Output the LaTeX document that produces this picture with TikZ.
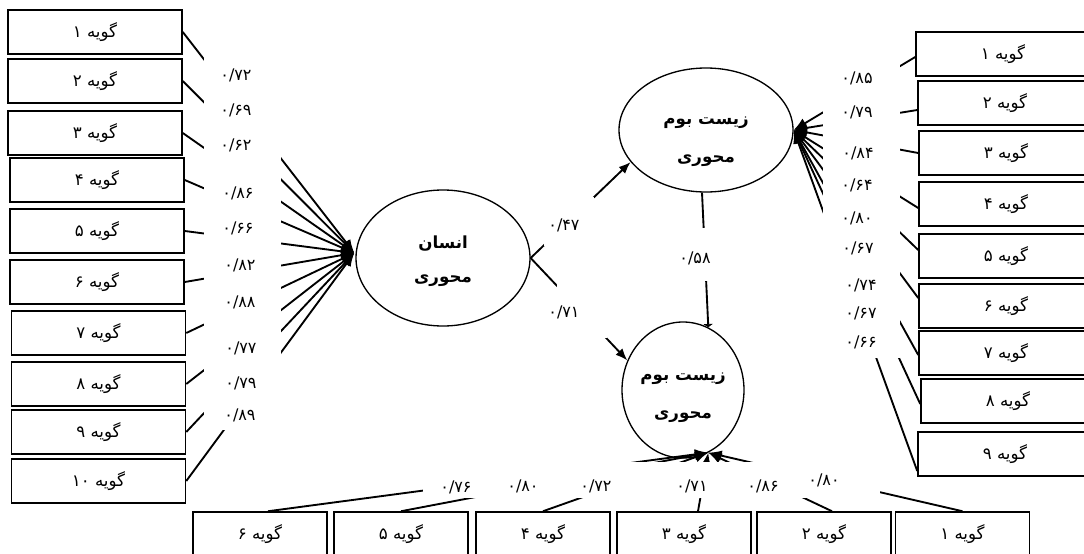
\documentclass[tikz,border=0pt]{standalone}
\usepackage{fontspec}
\setmainfont{DejaVu Sans}
\newfontfamily\arabicfont[Script=Arabic]{DejaVu Sans}
\TeXXeTstate=1
\usetikzlibrary{arrows.meta,shapes.geometric}
\begin{document}
\begin{tikzpicture}[x=0.75pt,y=-0.75pt,
  every node/.style={inner sep=0pt},
  itembox/.style={draw, line width=1.15pt, minimum width=130.5pt, minimum height=33pt,
    font=\arabicfont\fontsize{12.5}{14}\selectfont},
  botbox/.style={itembox, minimum width=100.5pt},
  latent/.style={draw, ellipse, line width=1pt, align=center,
    font=\arabicfont\bfseries\fontsize{12.5}{25.5}\selectfont},
  fan/.style={line width=1.4pt, -{Latex[length=10pt,width=8pt]}},
  pathar/.style={line width=1.4pt, -{Latex[length=9pt,width=7pt]}},
  flatar/.style={line width=1.4pt, -{Latex[length=2.5pt,width=8pt]}},
  coef/.style={font=\fontsize{12}{13}\selectfont},
  cover/.style={fill=white}
]
\fill[white] (0,0) rectangle (1084,553);
\useasboundingbox (0,0) rectangle (1084,553);

% latent variables
\node[latent, minimum width=130.5pt, minimum height=102pt] (la) at (443,258)
  {\rule{0pt}{15pt}\beginR انسان\endR\\ \beginR محوری\endR};
\node[latent, minimum width=130.5pt, minimum height=93pt] (te) at (706,130)
  {\rule{0pt}{24pt}\beginR زیست بوم\endR\\[3pt] \beginR محوری\endR};
\node[latent, minimum width=91.5pt, minimum height=102pt] (be) at (683,390)
  {\rule{0pt}{17pt}\beginR زیست بوم\endR\\[3pt] \beginR محوری\endR};

% left items
\node[itembox] (l1) at (95,32) {\beginR گویه ۱\endR};
\node[itembox] (l2) at (95,81) {\beginR گویه ۲\endR};
\node[itembox] (l3) at (95,133) {\beginR گویه ۳\endR};
\node[itembox] (l4) at (97,180) {\beginR گویه ۴\endR};
\node[itembox] (l5) at (97,231) {\beginR گویه ۵\endR};
\node[itembox] (l6) at (97,282) {\beginR گویه ۶\endR};
\node[itembox] (l7) at (98.5,333) {\beginR گویه ۷\endR};
\node[itembox] (l8) at (98.5,384) {\beginR گویه ۸\endR};
\node[itembox] (l9) at (98.5,432) {\beginR گویه ۹\endR};
\node[itembox] (l10) at (98.5,481) {\beginR گویه \beginL۱۰\endL\endR};

% right items
\node[itembox] (r1) at (1003,54) {\beginR گویه ۱\endR};
\node[itembox] (r2) at (1005,103) {\beginR گویه ۲\endR};
\node[itembox] (r3) at (1006,153) {\beginR گویه ۳\endR};
\node[itembox] (r4) at (1006,204) {\beginR گویه ۴\endR};
\node[itembox] (r5) at (1006,256) {\beginR گویه ۵\endR};
\node[itembox] (r6) at (1006,306) {\beginR گویه ۶\endR};
\node[itembox] (r7) at (1006,353) {\beginR گویه ۷\endR};
\node[itembox] (r8) at (1008,401) {\beginR گویه ۸\endR};
\node[itembox] (r9) at (1005,454) {\beginR گویه ۹\endR};

% bottom items
\node[botbox] (b6) at (260,534) {\beginR گویه ۶\endR};
\node[botbox] (b5) at (401,534) {\beginR گویه ۵\endR};
\node[botbox] (b4) at (543,534) {\beginR گویه ۴\endR};
\node[botbox] (b3) at (684,534) {\beginR گویه ۳\endR};
\node[botbox] (b2) at (824,534) {\beginR گویه ۲\endR};
\node[botbox] (b1) at (962.5,534) {\beginR گویه ۱\endR};

% arrow tips on the latent variables
\coordinate (ltip) at ([shift={(-1,-5)}]la.west);
\coordinate (rtip) at (te.east);
\coordinate (btip) at (be.-68);

% loadings
\foreach \i in {1,...,10} \draw[fan] (l\i.east) -- (ltip);
\draw[fan] ([shift={(0,3)}]r1.west) -- (rtip);
\draw[fan] ([shift={(0,7)}]r2.west) -- (rtip);
\draw[fan] (r3.west) -- (rtip);
\draw[fan] ([shift={(0,4)}]r4.west) -- (rtip);
\draw[fan] ([shift={(0,-6)}]r5.west) -- (rtip);
\draw[fan] ([shift={(0,-8)}]r6.west) -- (rtip);
\draw[fan] ([shift={(0,2)}]r7.west) -- (rtip);
\draw[fan] ([shift={(0,3)}]r8.west) -- (rtip);
\draw[fan] ([shift={(0,17)}]r9.west) -- (rtip);
\draw[fan] ([shift={(8,0)}]b6.north) -- (btip);
\draw[fan] (b5.north) -- (btip);
\draw[fan] (b4.north) -- (btip);
\draw[fan] ([shift={(14,0)}]b3.north) -- (btip);
\draw[fan] ([shift={(8,0)}]b2.north) -- (btip);
\draw[fan] (b1.north) -- (btip);

% structural paths
\draw[pathar] (la.east) -- (te.203);
\draw[pathar] (la.east) -- (be.152);
\draw[flatar] ([shift={(-4,0)}]te.south) -- (be.68);

% white label boxes covering the middle of the lines
\fill[cover] (204,56) rectangle (281,430);
\fill[cover] (823,60) rectangle (900,358);
\fill[cover] (423,462) rectangle (880,498);
\fill[cover] (544,197) rectangle (594,246);
\fill[cover] (557,284) rectangle (607,338);
\fill[cover] (680,228) rectangle (725,281);

% coefficients, left
\node[coef] (cl1) at (236,75) {۰/۷۲};
\node[coef] (cl2) at (236,110) {۰/۶۹};
\node[coef] (cl3) at (236,145) {۰/۶۲};
\node[coef] (cl4) at (238,193) {۰/۸۶};
\node[coef] (cl5) at (238,228) {۰/۶۶};
\node[coef] (cl6) at (240,265) {۰/۸۲};
\node[coef] (cl7) at (240,302) {۰/۸۸};
\node[coef] (cl8) at (241,348) {۰/۷۷};
\node[coef] (cl9) at (241,383) {۰/۷۹};
\node[coef] (cl10) at (240,415) {۰/۸۹};
% coefficients, right
\node[coef] (cr1) at (857,78) {۰/۸۵};
\node[coef] (cr2) at (857,112) {۰/۷۹};
\node[coef] (cr3) at (858,153) {۰/۸۴};
\node[coef] (cr4) at (857,185) {۰/۶۴};
\node[coef] (cr5) at (857,218) {۰/۸۰};
\node[coef] (cr6) at (858,248) {۰/۶۷};
\node[coef] (cr7) at (861,285) {۰/۷۴};
\node[coef] (cr8) at (861,313) {۰/۶۷};
\node[coef] (cr9) at (861,342) {۰/۶۶};
% coefficients, bottom
\node[coef] (cb6) at (456,487) {۰/۷۶};
\node[coef] (cb5) at (523,486) {۰/۸۰};
\node[coef] (cb4) at (596,486) {۰/۷۲};
\node[coef] (cb3) at (692,486) {۰/۷۱};
\node[coef] (cb2) at (763,486) {۰/۸۶};
\node[coef] (cb1) at (824,480) {۰/۸۰};
% coefficients, structural
\node[coef] (c47) at (564,225) {۰/۴۷};
\node[coef] (c71) at (564,312) {۰/۷۱};
\node[coef] (c58) at (695,258) {۰/۵۸};
\end{tikzpicture}
\end{document}
